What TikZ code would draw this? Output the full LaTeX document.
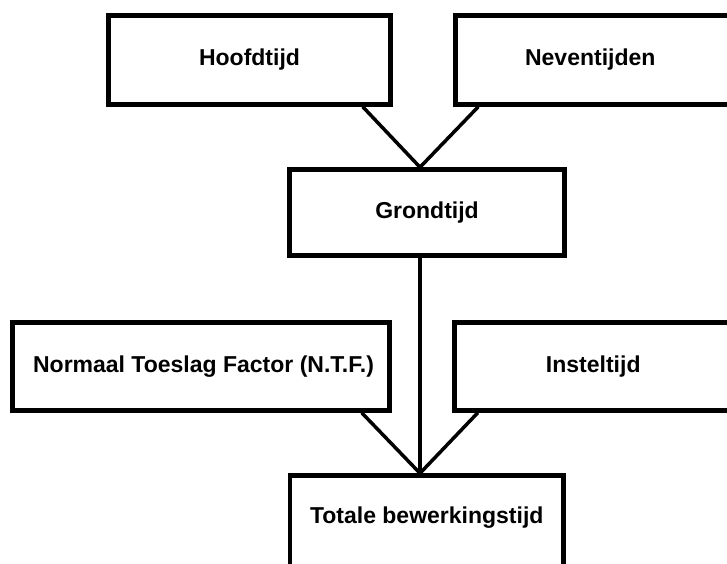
\documentclass[tikz,border=0pt]{standalone}
\usepackage{fontspec}
\setmainfont{Liberation Sans}
\begin{document}
\begin{tikzpicture}[x=1pt,y=-1pt,
  lbl/.style={font=\fontsize{23}{27}\selectfont\bfseries},
  box/.style={draw, rectangle, line width=4.5pt, inner sep=0pt, lbl},
  link/.style={line width=3.5pt}]
\clip (0,0) rectangle (727,563);
\fill[white] (0,0) rectangle (727,563);

% top row
\node[box, minimum width=282pt, minimum height=89pt] (hoof) at (249.5,60) {Hoofdtijd};
\node[box, minimum width=304.5pt, minimum height=89pt,
  label={[xshift=-17.5pt, lbl]center:Neventijden}] (nev) at (607.75,60) {};

% middle
\node[box, minimum width=275pt, minimum height=86pt] (grond) at (427,212.5) {Grondtijd};

% lower row
\node[box, minimum width=377pt, minimum height=88pt,
  label={[xshift=2.5pt, lbl]center:Normaal Toeslag Factor (N.T.F.)}] (ntf) at (201,366.5) {};
\node[box, minimum width=305.5pt, minimum height=88pt,
  label={[xshift=-14pt, lbl]center:Insteltijd}] (inst) at (607.25,366.5) {};

% result
\node[box, minimum width=273.5pt, minimum height=104.5pt,
  label={[yshift=9.75pt, lbl]center:Totale bewerkingstijd}] (tot) at (426.75,527.75) {};

% connectors
\coordinate (gtop) at ([xshift=-7pt]grond.north);
\coordinate (gbot) at ([xshift=-7pt]grond.south);
\coordinate (ttop) at ([xshift=-6.75pt]tot.north);
\draw[link] ([xshift=-30pt]hoof.south east) -- (gtop);
\draw[link] ([xshift=25pt]nev.south west) -- (gtop);
\draw[link] (gbot) -- (ttop);
\draw[link] ([xshift=-30pt]ntf.south east) -- (ttop);
\draw[link] ([xshift=25.5pt]inst.south west) -- (ttop);
\end{tikzpicture}
\end{document}
